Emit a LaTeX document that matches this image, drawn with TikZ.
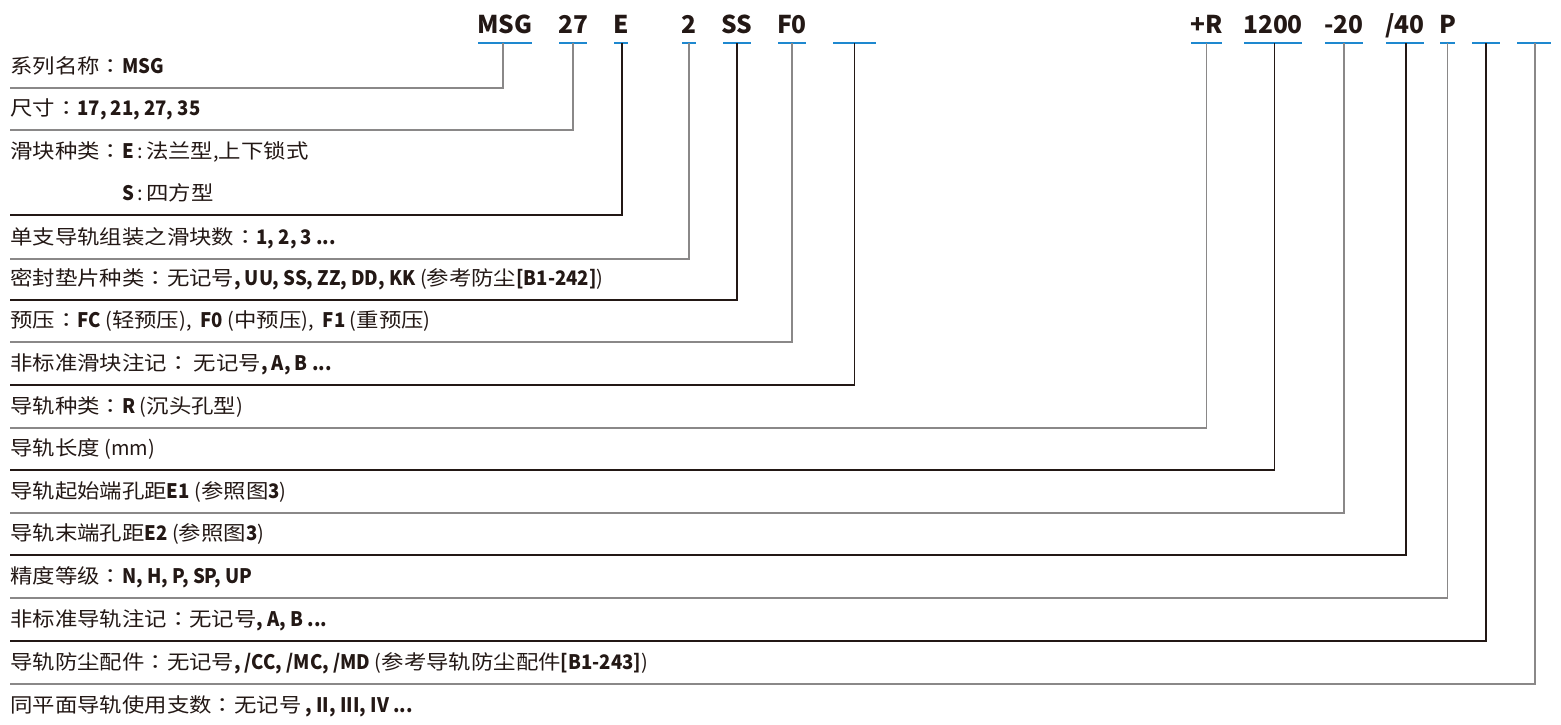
\documentclass[tikz,border=0pt]{standalone}
\usepackage{fontspec}
\setmainfont{Noto Sans CJK SC}[FakeStretch=1.12]
\newfontfamily\latf{Noto Sans CJK SC}
\newfontfamily\latbf{Noto Sans CJK SC}[FakeStretch=0.93]
\newfontfamily\tcf{Noto Sans CJK TC}[FakeStretch=1.12]
\newfontfamily\topfont{Noto Sans CJK SC}
\newcommand\latb[1]{{\latbf\bfseries #1}}
\newcommand\latr[1]{{\latf #1}}
\newcommand\zcolon{{\tcf ：}}
\definecolor{ink}{HTML}{231815}
\definecolor{lgray}{HTML}{8A8888}
\definecolor{nskblue}{HTML}{1E88CF}
\begin{document}
\begin{tikzpicture}[x=1pt,y=-1pt,
  lab/.style={font=\topfont\fontsize{24.5}{28}\selectfont\bfseries, text=ink, anchor=base, inner sep=0pt},
  row/.style={font=\fontsize{20}{24}\selectfont, text=ink, anchor=base west, inner sep=0pt},
  bar/.style={fill=nskblue, minimum height=2.2pt, inner sep=0pt, outer sep=0pt, draw=none},
  lg/.style={draw=lgray, line width=1.1pt},
  ld/.style={draw=ink, line width=1.1pt}]
\useasboundingbox (0,0) rectangle (1561,724);

% blue bars
\node[bar, minimum width=54pt] (b1)  at (505,43) {};
\node[bar, minimum width=28pt] (b2)  at (573,43) {};
\node[bar, minimum width=14pt] (b3)  at (621,43) {};
\node[bar, minimum width=14pt] (b4)  at (689,43) {};
\node[bar, minimum width=28pt] (b5)  at (737,43) {};
\node[bar, minimum width=28pt] (b6)  at (792,43) {};
\node[bar, minimum width=43pt] (b7)  at (854.5,43) {};
\node[bar, minimum width=31pt] (b8)  at (1206.5,43) {};
\node[bar, minimum width=58pt] (b9)  at (1273,43) {};
\node[bar, minimum width=38pt] (b10) at (1344,43) {};
\node[bar, minimum width=38pt] (b11) at (1405,43) {};
\node[bar, minimum width=15pt] (b12) at (1447.5,43) {};
\node[bar, minimum width=28pt] (b13) at (1486,43) {};
\node[bar, minimum width=34pt] (b14) at (1534,43) {};

% code labels
\node[lab] (t1)  at ([yshift=10pt]b1.center)  {MSG};
\node[lab] (t2)  at ([yshift=10pt]b2.center)  {27};
\node[lab] (t3)  at ([yshift=10pt]b3.center)  {E};
\node[lab] (t4)  at ([yshift=10pt]b4.center)  {2};
\node[lab] (t5)  at ([yshift=10pt]b5.center)  {SS};
\node[lab] (t6)  at ([yshift=10pt]b6.center)  {F0};
\node[lab] (t8)  at ([yshift=10pt]b8.center)  {+R};
\node[lab] (t9)  at ([yshift=10pt]b9.center)  {1200};
\node[lab] (t10) at ([yshift=10pt]b10.center) {-20};
\node[lab] (t11) at ([yshift=10pt]b11.center) {/40};
\node[lab] (t12) at ([yshift=10pt]b12.center) {P};

% line ends at the left
\coordinate (h1)  at (10,88);
\coordinate (h2)  at (10,130);
\coordinate (h3)  at (10,215);
\coordinate (h4)  at (10,259);
\coordinate (h5)  at (10,300);
\coordinate (h6)  at (10,342);
\coordinate (h7)  at (10,385);
\coordinate (h8)  at (10,428);
\coordinate (h9)  at (10,470);
\coordinate (h10) at (10,513);
\coordinate (h11) at (10,555);
\coordinate (h12) at (10,598);
\coordinate (h13) at (10,641);
\coordinate (h14) at (10,684);

% connectors
\draw[lg] ([xshift=-2pt]b1.center)  |- (h1);
\draw[lg] (b2.center)  |- (h2);
\draw[ld] ([xshift=1pt]b3.center)  |- (h3);
\draw[lg] (b4.center)  |- (h4);
\draw[ld] (b5.center)  |- (h5);
\draw[lg] (b6.center)  |- (h6);
\draw[ld] (b7.center)  |- (h7);
\draw[lg] (b8.center)  |- (h8);
\draw[ld] ([xshift=1.5pt]b9.center)  |- (h9);
\draw[lg] (b10.center) |- (h10);
\draw[ld] ([xshift=1pt]b11.center) |- (h11);
\draw[lg] (b12.center) |- (h12);
\draw[ld] (b13.center) |- (h13);
\draw[lg] ([xshift=1pt]b14.center) |- (h14);

% descriptions
\node[row] (r1)  at (10,73)  {系列名称\zcolon\latb{MSG}};
\node[row] (r2)  at (10,115) {尺寸\zcolon\latb{17, 21, 27, 35}};
\node[row] (r3)  at (10,158) {滑块种类\zcolon\latb{E}\latr{\,:\,}法兰型\latr{,}上下锁式};
\node[row] (r4)  at (10,200) {\phantom{滑块种类\zcolon}\latb{S}\latr{\,:\,}四方型};
\node[row] (r5)  at (10,244) {单支导轨组装之滑块数\zcolon\latb{1, 2, 3 ...}};
\node[row] (r6)  at (10,285) {密封垫片种类\zcolon 无记号\latb{, UU, SS, ZZ, DD, KK}\latr{ (}参考防尘\latb{[B1-242]}\latr{)}};
\node[row] (r7)  at (10,327) {预压\zcolon\latb{FC}\latr{ (}轻预压\latr{),\ \ }\latb{F0}\latr{ (}中预压\latr{),\ \ }\latb{F1}\latr{ (}重预压\latr{)}};
\node[row] (r8)  at (10,370) {非标准滑块注记\zcolon\latr{\ }无记号\latb{, A, B ...}};
\node[row] (r9)  at (10,413) {导轨种类\zcolon\latb{R}\latr{ (}沉头孔型\latr{)}};
\node[row] (r10) at (10,455) {导轨长度\latr{ (mm)}};
\node[row] (r11) at (10,498) {导轨起始端孔距\latb{E1}\latr{ (}参照图\latb{3}\latr{)}};
\node[row] (r12) at (10,540) {导轨末端孔距\latb{E2}\latr{ (}参照图\latb{3}\latr{)}};
\node[row] (r13) at (10,583) {精度等级\zcolon\latb{N, H, P, SP, UP}};
\node[row] (r14) at (10,626) {非标准导轨注记\zcolon 无记号\latb{, A, B ...}};
\node[row] (r15) at (10,669) {导轨防尘配件\zcolon 无记号\latb{, /CC, /MC, /MD}\latr{ (}参考导轨防尘配件\latb{[B1-243]}\latr{)}};
\node[row] (r16) at (10,712) {同平面导轨使用支数\zcolon 无记号\latb{ , II, III, IV ...}};
\end{tikzpicture}
\end{document}
